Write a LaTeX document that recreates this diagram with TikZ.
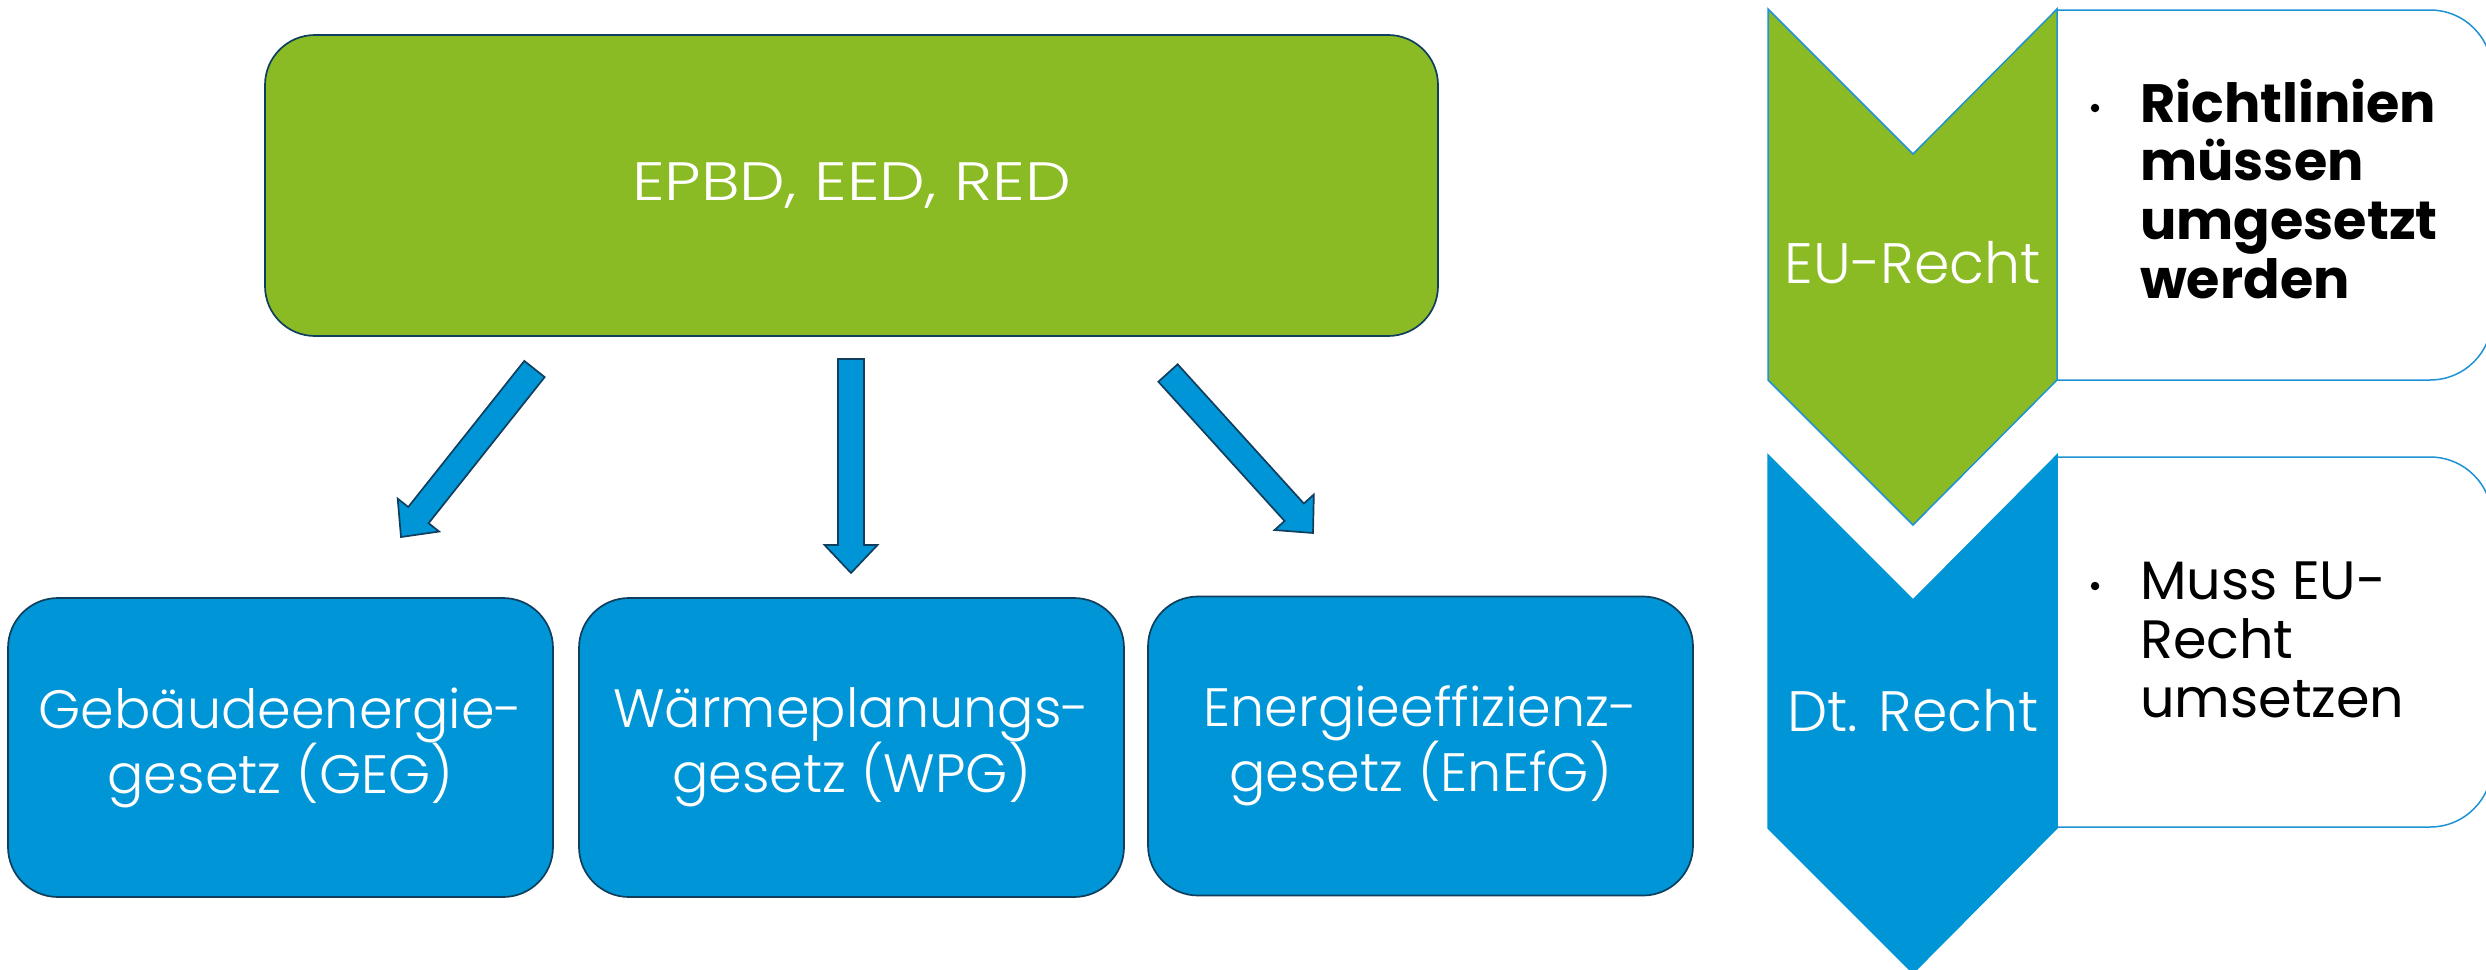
\documentclass[tikz,border=0pt]{standalone}
\usepackage{fontspec}
\setmainfont{Poppins}
\newfontfamily\lightfont{Poppins Light}
\newfontfamily\lightwide{Poppins Light}[FakeStretch=1.2]
\usetikzlibrary{calc}
\definecolor{egreen}{RGB}{138,187,37}
\definecolor{eblue}{RGB}{0,149,214}
\definecolor{enavy}{RGB}{16,63,94}
\definecolor{eline}{RGB}{30,146,212}
\newcommand\blockarrow[2]{%
  \coordinate (ba-b) at ($(#2)!28pt!(#1)$);
  \draw[arrowbody] ($(#1)!13pt!90:(#2)$) -- ($(ba-b)!13pt!-90:(#1)$) -- ($(ba-b)!26.5pt!-90:(#1)$) -- (#2)
    -- ($(ba-b)!26.5pt!90:(#1)$) -- ($(ba-b)!13pt!90:(#1)$) -- ($(#1)!13pt!-90:(#2)$) -- cycle;}
\newcommand\infopanel[2]{%
  \draw[infobox] (2200,#1) [rounded corners=62pt] -- (2492,#1) -- (2492,#2) -- (2200,#2)
    [sharp corners] -- (2057,#2) -- (2057,#1) -- cycle;}
\tikzset{
  topbox/.style={draw=enavy, line width=1.7pt, fill=egreen, rounded corners=50pt, text=white,
    font=\lightwide\fontsize{54}{65}\selectfont, minimum width=1173pt, minimum height=301pt},
  lawbox/.style={draw=enavy, line width=1.7pt, fill=eblue, rounded corners=50pt, text=white, align=center,
    font=\lightfont\fontsize{54}{65}\selectfont, minimum width=545pt, minimum height=299pt},
  arrowbody/.style={draw=enavy, line width=1.7pt, fill=eblue, line join=miter},
  chevgreen/.style={draw=eline, line width=1.5pt, fill=egreen},
  chevblue/.style={draw=eblue, line width=1.5pt, fill=eblue},
  infobox/.style={draw=eline, line width=1.5pt, fill=white},
  chevtext/.style={text=white, font=\lightfont\fontsize{57}{65}\selectfont, anchor=base, inner sep=0pt},
  bullettext/.style={text=black, align=left, anchor=base west, inner sep=0pt, font=\fontsize{54}{58.6}\selectfont},
  dot/.style={circle, fill=black, inner sep=0pt, minimum size=8.5pt}
}
\begin{document}
\begin{tikzpicture}[x=1pt,y=-1pt]
\useasboundingbox (0,0) rectangle (2486,969);
\clip (0,0) rectangle (2486,969);
% left: directives and German laws
\node[topbox] (eu) at (851.5,185.5) {EPBD, EED, RED};
\node[lawbox] (geg) at (280.5,747.5) {Gebäudeenergie-\\gesetz (GEG)};
\node[lawbox] (wpg) at (851.5,747.5) {Wärmeplanungs-\\gesetz (WPG)};
\node[lawbox] (enefg) at (1420.5,746) {Energieeffizienz-\\gesetz (EnEfG)};
\coordinate (a1s) at (534.5,369); \coordinate (a1e) at (401,537);
\coordinate (a2s) at (851,359);   \coordinate (a2e) at (851,573);
\coordinate (a3s) at (1168,373);  \coordinate (a3e) at (1313,533);
\blockarrow{a1s}{a1e}
\blockarrow{a2s}{a2e}
\blockarrow{a3s}{a3e}
% right: chevron list
\infopanel{10}{380}
\infopanel{457}{827}
\draw[chevgreen] (1768,9) -- (1913,154) -- (2057,9) -- (2057,380) -- (1913,525) -- (1768,380) -- cycle;
\draw[chevblue] (1768,455) -- (1913,600) -- (2057,455) -- (2057,828) -- (1913,973) -- (1768,828) -- cycle;
\node[chevtext] (eur) at (1913,283) {EU-Recht};
\node[chevtext] (dtr) at (1913,731) {Dt. Recht};
\node[dot] (d1) at (2095,108) {};
\node[bullettext] (t1) at (2140,298) {\bfseries Richtlinien\\\bfseries müssen\\\bfseries umgesetzt\\\bfseries werden};
\node[dot] (d2) at (2095,586) {};
\node[bullettext] (t2) at (2140,717) {Muss EU-\\Recht\\umsetzen};
\end{tikzpicture}
\end{document}
